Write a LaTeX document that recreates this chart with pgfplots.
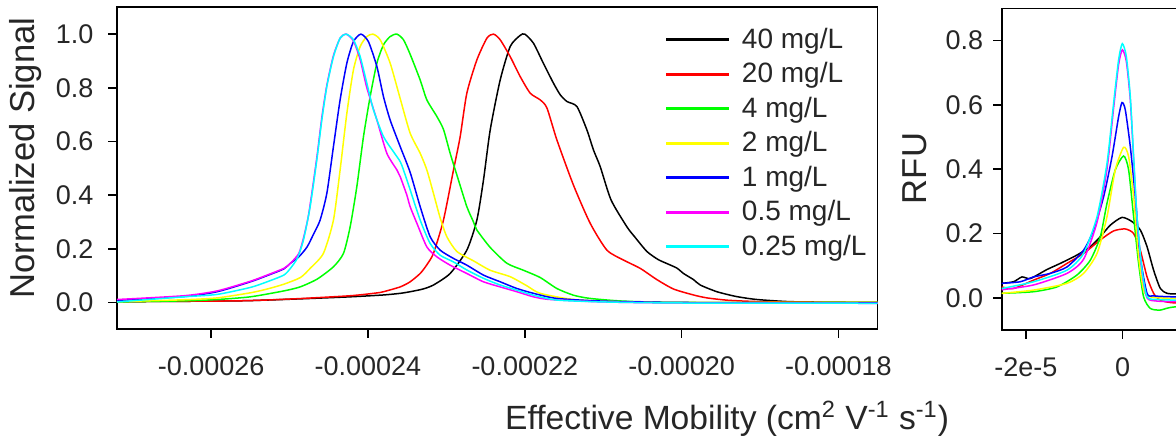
\documentclass[border=0pt]{standalone}
\usepackage{fontspec}
\setmainfont{Liberation Sans}
\usepackage{pgfplots}
\pgfplotsset{compat=1.18}
\definecolor{lineblack}{RGB}{0,0,0}
\definecolor{linered}{RGB}{255,0,0}
\definecolor{linegreen}{RGB}{0,255,0}
\definecolor{lineyellow}{RGB}{255,255,0}
\definecolor{lineblue}{RGB}{0,0,255}
\definecolor{linemagenta}{RGB}{255,0,255}
\definecolor{linecyan}{RGB}{0,255,255}
\pgfplotsset{
  common/.style={
    scale only axis,
    anchor=south west,
    axis line style={line width=0.8pt},
    tick style={line width=0.8pt, black},
    major tick length=4.3pt,
    tick align=outside,
    xtick pos=bottom, ytick pos=left,
    scaled x ticks=false, scaled y ticks=false,
    /pgf/number format/assume math mode=true,
    tick label style={font=\fontsize{13.5}{15}\selectfont, text=black!85},
    xticklabel style={yshift=-5.75pt},
    yticklabel style={xshift=-1.5pt},
    label style={font=\fontsize{17.3}{20}\selectfont, text=black!85},
    every axis plot/.append style={line width=0.75pt, smooth, tension=0.4},
  }
}
\begin{document}
\begin{tikzpicture}
\path[use as bounding box, clip] (0,0) rectangle (588pt,218.5pt);
\begin{axis}[common,
  at={(58.5pt,53.85pt)}, width=380.35pt, height=161pt,
  xmin=-27.2e-5, xmax=-17.5e-5, ymin=-0.1, ymax=1.1,
  xtick={-26e-5,-24e-5,-22e-5,-20e-5,-18e-5},
  xticklabels={-0.00026,-0.00024,-0.00022,-0.00020,-0.00018},
  ytick={0,0.2,0.4,0.6,0.8,1.0},
  yticklabels={0.0,0.2,0.4,0.6,0.8,1.0},
  yticklabel style={xshift=-2.5pt},
  xlabel={Effective Mobility (cm\textsuperscript{2} V\textsuperscript{-1} s\textsuperscript{-1})},
  ylabel={Normalized Signal},
  xlabel style={at={(axis description cs:0.8020,-0.3127)}, anchor=base, font=\fontsize{16.8}{20}\selectfont},
  ylabel style={at={(axis description cs:-0.1078,0.532)}, anchor=base, rotate=0},
  legend style={at={(rel axis cs:0.7213,0.937)}, anchor=north west, draw=none, fill=none,
    inner sep=0pt, row sep=5.6pt, column sep=6.4pt,
    font=\fontsize{14}{16}\selectfont, text=black!85,
    nodes={inner sep=0pt}},
  legend cell align=left,
  legend image code/.code={\fill[#1] (0pt,-0.4pt) rectangle (30.8pt,0.4pt);},
]
\addplot[color=lineblack] coordinates {
(-27.2e-5,0.003) (-26.0e-5,0.005) (-25.5e-5,0.007) (-24.9e-5,0.013) (-24.227e-5,0.021)
(-23.8e-5,0.028) (-23.589e-5,0.034) (-23.462e-5,0.040) (-23.30e-5,0.050) (-23.165e-5,0.065)
(-22.952e-5,0.108) (-22.739e-5,0.195) (-22.611e-5,0.307) (-22.527e-5,0.456) (-22.441e-5,0.643)
(-22.314e-5,0.829) (-22.186e-5,0.954) (-22.06e-5,0.995) (-22.0e-5,1.000) (-21.889e-5,0.966)
(-21.761e-5,0.890) (-21.634e-5,0.817) (-21.548e-5,0.774) (-21.463e-5,0.749) (-21.335e-5,0.730)
(-21.208e-5,0.643) (-21.124e-5,0.568) (-21.038e-5,0.506) (-20.90e-5,0.382) (-20.698e-5,0.282)
(-20.60e-5,0.245) (-20.443e-5,0.190) (-20.30e-5,0.160) (-20.188e-5,0.145) (-20.06e-5,0.128)
(-19.976e-5,0.108) (-19.848e-5,0.085) (-19.763e-5,0.065) (-19.55e-5,0.040) (-19.3e-5,0.022)
(-19.04e-5,0.011) (-18.615e-5,0.003) (-18.0e-5,0.001) (-17.5e-5,0.000)
};
\addlegendentry{40 mg/L}
\addplot[color=linered] coordinates {
(-27.2e-5,0.003) (-26.0e-5,0.005) (-25.5e-5,0.007) (-24.9e-5,0.014) (-24.227e-5,0.025)
(-23.9e-5,0.035) (-23.802e-5,0.040) (-23.589e-5,0.058) (-23.462e-5,0.077) (-23.334e-5,0.108)
(-23.25e-5,0.140) (-23.165e-5,0.183) (-23.037e-5,0.307) (-22.909e-5,0.494) (-22.824e-5,0.618)
(-22.739e-5,0.780) (-22.611e-5,0.904) (-22.483e-5,0.985) (-22.399e-5,1.000) (-22.314e-5,0.979)
(-22.186e-5,0.916) (-22.059e-5,0.842) (-21.931e-5,0.780) (-21.804e-5,0.755) (-21.718e-5,0.725)
(-21.591e-5,0.606) (-21.379e-5,0.437) (-21.166e-5,0.295) (-20.953e-5,0.195) (-20.741e-5,0.158)
(-20.528e-5,0.127) (-20.315e-5,0.085) (-20.103e-5,0.050) (-19.85e-5,0.028) (-19.677e-5,0.017)
(-19.4e-5,0.008) (-19.0e-5,0.003) (-18.5e-5,0.001) (-17.5e-5,0.000)
};
\addlegendentry{20 mg/L}
\addplot[color=linegreen] coordinates {
(-27.2e-5,0.002) (-26.348e-5,0.006) (-25.923e-5,0.011) (-25.499e-5,0.021) (-25.073e-5,0.043)
(-24.865e-5,0.058) (-24.648e-5,0.087) (-24.440e-5,0.133) (-24.312e-5,0.183) (-24.227e-5,0.282)
(-24.142e-5,0.431) (-24.057e-5,0.618) (-23.972e-5,0.767) (-23.886e-5,0.892) (-23.802e-5,0.960)
(-23.717e-5,0.991) (-23.631e-5,1.000) (-23.547e-5,0.979) (-23.462e-5,0.925) (-23.334e-5,0.829)
(-23.249e-5,0.755) (-23.121e-5,0.693) (-23.037e-5,0.645) (-22.952e-5,0.556) (-22.866e-5,0.475)
(-22.739e-5,0.357) (-22.654e-5,0.300) (-22.611e-5,0.270) (-22.441e-5,0.205) (-22.228e-5,0.146)
(-22.017e-5,0.120) (-21.804e-5,0.093) (-21.591e-5,0.052) (-21.379e-5,0.027) (-21.166e-5,0.015)
(-20.741e-5,0.005) (-20.0e-5,0.000) (-17.5e-5,0.000)
};
\addlegendentry{4 mg/L}
\addplot[color=lineyellow] coordinates {
(-27.2e-5,0.003) (-26.348e-5,0.010) (-25.923e-5,0.017) (-25.499e-5,0.036) (-25.286e-5,0.050)
(-25.073e-5,0.068) (-24.861e-5,0.093) (-24.737e-5,0.127) (-24.568e-5,0.183) (-24.440e-5,0.307)
(-24.355e-5,0.494) (-24.269e-5,0.705) (-24.185e-5,0.867) (-24.099e-5,0.954) (-24.014e-5,0.991)
(-23.937e-5,1.000) (-23.844e-5,0.979) (-23.717e-5,0.892) (-23.589e-5,0.760) (-23.462e-5,0.631)
(-23.334e-5,0.556) (-23.249e-5,0.494) (-23.165e-5,0.407) (-23.079e-5,0.315) (-22.994e-5,0.245)
(-22.866e-5,0.190) (-22.654e-5,0.155) (-22.441e-5,0.120) (-22.186e-5,0.096) (-21.973e-5,0.062)
(-21.804e-5,0.034) (-21.379e-5,0.011) (-20.8e-5,0.003) (-20.0e-5,0.000) (-17.5e-5,0.000)
};
\addlegendentry{2 mg/L}
\addplot[color=lineblue] coordinates {
(-27.2e-5,0.008) (-26.348e-5,0.022) (-25.923e-5,0.040) (-25.499e-5,0.077) (-25.286e-5,0.100)
(-25.073e-5,0.125) (-24.989e-5,0.146) (-24.881e-5,0.170) (-24.776e-5,0.207) (-24.690e-5,0.257)
(-24.610e-5,0.307) (-24.524e-5,0.407) (-24.440e-5,0.581) (-24.355e-5,0.755) (-24.269e-5,0.892)
(-24.185e-5,0.972) (-24.090e-5,1.000) (-23.994e-5,0.972) (-23.886e-5,0.879) (-23.802e-5,0.767)
(-23.717e-5,0.680) (-23.589e-5,0.581) (-23.462e-5,0.485) (-23.334e-5,0.357) (-23.207e-5,0.245)
(-23.079e-5,0.195) (-22.909e-5,0.164) (-22.739e-5,0.139) (-22.527e-5,0.102) (-22.314e-5,0.077)
(-22.101e-5,0.052) (-21.889e-5,0.034) (-21.591e-5,0.015) (-21.0e-5,0.005) (-20.0e-5,0.000)
(-17.5e-5,-0.002)
};
\addlegendentry{1 mg/L}
\addplot[color=linemagenta] coordinates {
(-27.2e-5,0.011) (-26.348e-5,0.025) (-25.923e-5,0.043) (-25.499e-5,0.079) (-25.286e-5,0.102)
(-25.073e-5,0.127) (-24.989e-5,0.146) (-24.881e-5,0.183) (-24.818e-5,0.245) (-24.754e-5,0.332)
(-24.652e-5,0.540) (-24.588e-5,0.690) (-24.524e-5,0.810) (-24.440e-5,0.920) (-24.355e-5,0.985)
(-24.278e-5,1.000) (-24.185e-5,0.975) (-24.099e-5,0.905) (-24.014e-5,0.800) (-23.886e-5,0.680)
(-23.759e-5,0.556) (-23.631e-5,0.494) (-23.589e-5,0.469) (-23.504e-5,0.400) (-23.462e-5,0.357)
(-23.376e-5,0.295) (-23.249e-5,0.207) (-23.121e-5,0.170) (-22.952e-5,0.139) (-22.739e-5,0.108)
(-22.527e-5,0.077) (-22.314e-5,0.058) (-22.101e-5,0.040) (-21.889e-5,0.021) (-21.676e-5,0.011)
(-21.0e-5,0.002) (-20.0e-5,-0.002) (-17.5e-5,-0.003)
};
\addlegendentry{0.5 mg/L}
\addplot[color=linecyan] coordinates {
(-27.2e-5,0.002) (-26.348e-5,0.021) (-25.923e-5,0.030) (-25.499e-5,0.056) (-25.286e-5,0.077)
(-25.073e-5,0.102) (-24.989e-5,0.127) (-24.90e-5,0.165) (-24.823e-5,0.232) (-24.737e-5,0.357)
(-24.652e-5,0.531) (-24.588e-5,0.680) (-24.524e-5,0.805) (-24.440e-5,0.916) (-24.355e-5,0.985)
(-24.278e-5,1.000) (-24.185e-5,0.979) (-24.099e-5,0.916) (-24.014e-5,0.817) (-23.930e-5,0.718)
(-23.802e-5,0.618) (-23.675e-5,0.562) (-23.589e-5,0.525) (-23.547e-5,0.494) (-23.462e-5,0.420)
(-23.334e-5,0.307) (-23.207e-5,0.220) (-23.079e-5,0.176) (-22.909e-5,0.151) (-22.739e-5,0.121)
(-22.527e-5,0.090) (-22.314e-5,0.065) (-22.101e-5,0.046) (-21.889e-5,0.027) (-21.591e-5,0.009)
(-21.0e-5,0.002) (-20.0e-5,-0.002) (-17.5e-5,-0.003)
};
\addlegendentry{0.25 mg/L}
\end{axis}
\begin{axis}[common,
  at={(500.85pt,53.5pt)}, width=120.9pt, height=160.85pt,
  xmin=-2.5e-5, xmax=2.5e-5, ymin=-0.1, ymax=0.9,
  xtick={-2e-5,0}, xticklabels={-2e-5,0},
  ytick={0,0.2,0.4,0.6,0.8}, yticklabels={0.0,0.2,0.4,0.6,0.8},
  ylabel={RFU},
  ylabel style={at={(axis description cs:-0.310,0.502)}, anchor=base, rotate=0},
]
\addplot[color=lineblack] coordinates {
(-2.5e-5,0.045) (-2.254e-5,0.050) (-2.081e-5,0.065) (-1.909e-5,0.060) (-1.564e-5,0.088)
(-1.289e-5,0.107) (-0.943e-5,0.133) (-0.668e-5,0.159) (-0.461e-5,0.190) (-0.254e-5,0.226)
(-0.012e-5,0.250) (0.194e-5,0.237) (0.366e-5,0.211) (0.505e-5,0.159) (0.641e-5,0.086)
(0.780e-5,0.029) (0.918e-5,0.014) (1.111e-5,0.012) (1.5e-5,0.010) (2.5e-5,0.010)
};
\addplot[color=linered] coordinates {
(-2.5e-5,0.034) (-2.254e-5,0.029) (-1.841e-5,0.055) (-1.495e-5,0.076) (-1.150e-5,0.107)
(-0.807e-5,0.138) (-0.461e-5,0.180) (-0.186e-5,0.208) (0.056e-5,0.214) (0.228e-5,0.200)
(0.366e-5,0.148) (0.505e-5,0.065) (0.641e-5,0.014) (0.780e-5,-0.007) (1.111e-5,-0.016)
(2.5e-5,-0.016)
};
\addplot[color=linegreen] coordinates {
(-2.5e-5,0.014) (-1.841e-5,0.019) (-1.357e-5,0.034) (-0.943e-5,0.071) (-0.668e-5,0.117)
(-0.461e-5,0.190) (-0.323e-5,0.294) (-0.151e-5,0.398) (0.021e-5,0.441) (0.124e-5,0.398)
(0.228e-5,0.252) (0.331e-5,0.107) (0.434e-5,0.003) (0.573e-5,-0.033) (0.780e-5,-0.038)
(1.111e-5,-0.028) (2.5e-5,-0.028)
};
\addplot[color=lineyellow] coordinates {
(-2.5e-5,0.014) (-1.841e-5,0.024) (-1.150e-5,0.045) (-0.807e-5,0.076) (-0.529e-5,0.138)
(-0.323e-5,0.252) (-0.151e-5,0.398) (0.021e-5,0.468) (0.124e-5,0.439) (0.228e-5,0.314)
(0.331e-5,0.128) (0.434e-5,0.024) (0.573e-5,0.003) (1.111e-5,-0.002) (2.5e-5,-0.002)
};
\addplot[color=lineblue] coordinates {
(-2.5e-5,0.045) (-2.116e-5,0.050) (-1.841e-5,0.065) (-1.495e-5,0.076) (-1.150e-5,0.096)
(-0.807e-5,0.148) (-0.600e-5,0.211) (-0.393e-5,0.314) (-0.219e-5,0.439) (-0.083e-5,0.563)
(-0.012e-5,0.607) (0.056e-5,0.584) (0.159e-5,0.470) (0.263e-5,0.314) (0.366e-5,0.128)
(0.505e-5,0.014) (0.641e-5,0.006) (1.111e-5,0.003) (2.5e-5,0.003)
};
\addplot[color=linemagenta] coordinates {
(-2.5e-5,0.025) (-1.841e-5,0.040) (-1.150e-5,0.076) (-0.807e-5,0.120) (-0.529e-5,0.235)
(-0.323e-5,0.400) (-0.186e-5,0.590) (-0.083e-5,0.725) (-0.006e-5,0.771) (0.077e-5,0.735)
(0.159e-5,0.615) (0.228e-5,0.430) (0.298e-5,0.245) (0.401e-5,0.080) (0.505e-5,0.000)
(0.711e-5,-0.010) (1.111e-5,-0.012) (2.5e-5,-0.012)
};
\addplot[color=linecyan] coordinates {
(-2.5e-5,0.029) (-1.841e-5,0.050) (-1.150e-5,0.086) (-0.807e-5,0.138) (-0.529e-5,0.252)
(-0.323e-5,0.418) (-0.186e-5,0.605) (-0.083e-5,0.740) (-0.006e-5,0.790) (0.077e-5,0.750)
(0.159e-5,0.626) (0.228e-5,0.439) (0.298e-5,0.252) (0.401e-5,0.086) (0.505e-5,0.003)
(0.711e-5,-0.005) (1.111e-5,-0.007) (2.5e-5,-0.007)
};
\end{axis}
\end{tikzpicture}
\end{document}
